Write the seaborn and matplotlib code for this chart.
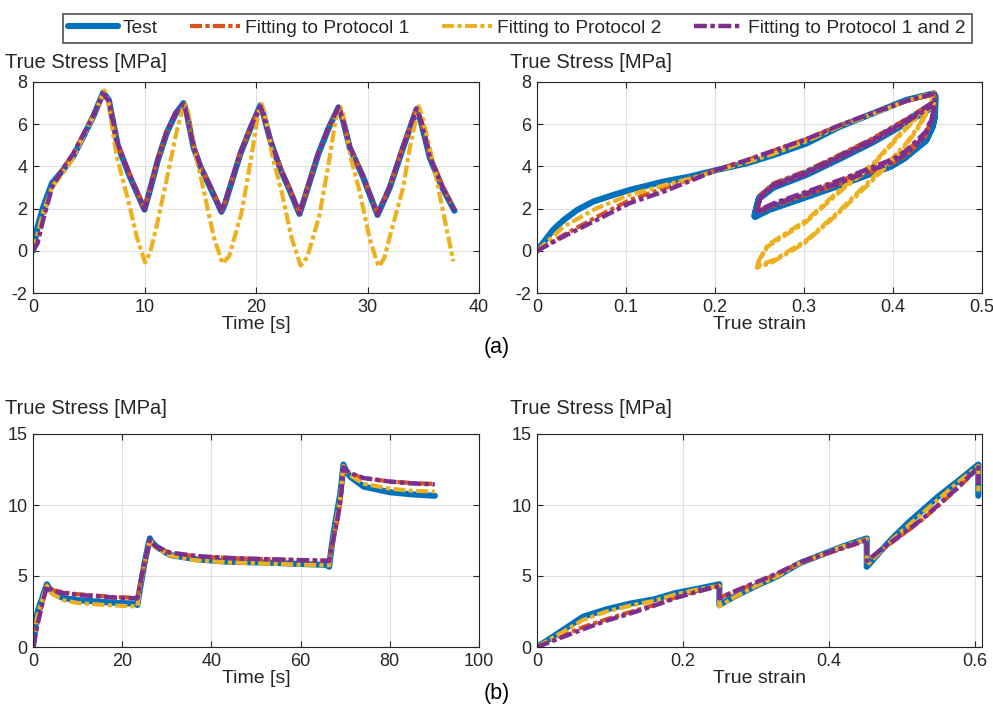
import numpy as np
import pandas as pd
import matplotlib
matplotlib.use("Agg")
import matplotlib.pyplot as plt
import seaborn as sns
from matplotlib.lines import Line2D
from matplotlib.ticker import FuncFormatter, MultipleLocator

# MATLAB default colour order
C_TEST = '#0072BD'
C_P1 = '#D95319'
C_P2 = '#EDB120'
C_P12 = '#7E2F8E'

# ---------------- (a) cyclic protocol: stress vs time ----------------
t_a = [0, 0.4, 0.9, 1.7, 2.7, 3.6, 4.5, 5.4, 6.3,
       6.8, 7.6, 8.7, 10.0,
       10.5, 11.2, 12.0, 12.8, 13.5,
       13.8, 14.4, 15.0, 15.9, 16.9,
       17.2, 18.6, 19.5, 20.4,
       20.7, 21.3, 22.2, 23.0, 23.9,
       24.3, 25.6, 26.5, 27.4,
       27.8, 28.4, 29.6, 30.9,
       32.0, 33.2, 34.4,
       34.8, 35.6, 36.7, 37.8]
s_a_test = [0, 1.1, 2.05, 3.2, 3.83, 4.46, 5.4, 6.36, 7.5,
            7.15, 5.0, 3.5, 1.95,
            2.9, 4.3, 5.6, 6.5, 7.0,
            6.5, 4.9, 4.0, 3.0, 1.85,
            2.2, 4.6, 5.8, 6.9,
            6.4, 5.2, 3.85, 2.9, 1.75,
            2.4, 4.6, 5.8, 6.8,
            6.2, 4.9, 3.5, 1.7,
            3.0, 4.9, 6.7,
            6.1, 4.4, 3.0, 1.9]
s_a_p1 = [0, 0.45, 1.55, 3.05, 3.9, 4.6, 5.5, 6.4, 7.45,
          7.1, 5.1, 3.6, 2.0,
          2.95, 4.35, 5.65, 6.55, 6.95,
          6.45, 4.95, 4.05, 3.05, 1.9,
          2.25, 4.65, 5.85, 6.85,
          6.35, 5.25, 3.9, 2.95, 1.8,
          2.45, 4.65, 5.85, 6.8,
          6.2, 4.95, 3.55, 1.75,
          3.05, 4.95, 6.75,
          6.15, 4.5, 3.1, 1.95]
s_a_p12 = [0, 0.35, 1.45, 3.0, 3.9, 4.6, 5.5, 6.4, 7.45,
           7.1, 5.05, 3.55, 1.95,
           2.95, 4.35, 5.65, 6.55, 6.95,
           6.45, 4.95, 4.05, 3.05, 1.85,
           2.25, 4.65, 5.85, 6.85,
           6.35, 5.25, 3.9, 2.95, 1.75,
           2.45, 4.65, 5.85, 6.8,
           6.2, 4.95, 3.55, 1.7,
           3.05, 4.95, 6.75,
           6.15, 4.45, 3.05, 1.9]
t_a_p2 = [0, 0.4, 0.9, 1.7, 2.7, 3.6, 4.5, 5.4, 6.4,
          6.7, 7.5, 8.7, 9.3, 10.05,
          10.5, 11.1, 12.0, 12.9, 13.6,
          13.9, 14.6, 15.3, 16.2, 17.0,
          17.6, 18.7, 19.6, 20.2, 20.5,
          20.8, 21.5, 22.3, 23.2, 24.0,
          24.6, 25.7, 26.6, 27.2, 27.5,
          27.8, 28.5, 29.3, 30.2, 31.0,
          31.5, 32.0, 33.2, 33.8, 34.6,
          34.9, 35.9, 36.8, 37.7]
s_a_p2 = [0, 0.8, 1.8, 3.0, 3.7, 4.4, 5.4, 6.35, 7.6,
          7.2, 4.5, 2.05, 0.67, -0.55,
          -0.1, 1.2, 3.4, 5.7, 7.05,
          6.6, 4.5, 2.9, 0.67, -0.6,
          -0.25, 1.8, 4.5, 6.5, 6.95,
          6.5, 4.4, 2.8, 0.6, -0.7,
          -0.3, 1.7, 4.4, 6.4, 6.9,
          6.5, 4.4, 2.8, 0.55, -0.75,
          -0.35, 0.67, 3.0, 4.9, 6.85,
          6.4, 4.15, 1.8, -0.5]

# ---------------- (a) cyclic protocol: stress vs strain ----------------
e_a_test = [0, 0.018, 0.030, 0.045, 0.063, 0.086, 0.104, 0.142, 0.172, 0.202, 0.236, 0.266, 0.303, 0.340, 0.378, 0.415, 0.446,
            0.448, 0.447, 0.440, 0.415, 0.400, 0.340, 0.303, 0.266, 0.246,
            0.245, 0.250, 0.266, 0.303, 0.340, 0.378, 0.415, 0.445,
            0.447, 0.446, 0.438, 0.413, 0.398, 0.338, 0.300, 0.264, 0.245,
            0.244, 0.249, 0.266, 0.303, 0.340, 0.378, 0.415, 0.444,
            0.446, 0.445, 0.437, 0.412, 0.397, 0.337, 0.300, 0.265]
se_a_test = [0, 0.99, 1.46, 1.93, 2.33, 2.65, 2.88, 3.28, 3.52, 3.83, 4.15, 4.54, 5.09, 5.88, 6.52, 7.15, 7.47,
             7.3, 6.3, 5.5, 4.55, 4.15, 3.2, 2.65, 2.1, 1.75,
             1.75, 2.55, 3.1, 3.7, 4.45, 5.25, 6.15, 7.0,
             6.9, 6.1, 5.3, 4.4, 4.0, 3.1, 2.55, 2.0, 1.6,
             1.65, 2.45, 3.0, 3.6, 4.35, 5.15, 6.05, 6.8,
             6.7, 5.9, 5.2, 4.35, 4.0, 3.05, 2.5, 2.0]
e_a_p1 = [0, 0.030, 0.067, 0.104, 0.142, 0.179, 0.202, 0.236, 0.266, 0.303, 0.340, 0.378, 0.415, 0.446,
          0.447, 0.445, 0.437, 0.415, 0.400, 0.340, 0.303, 0.266, 0.248,
          0.247, 0.252, 0.266, 0.303, 0.340, 0.378, 0.415, 0.444,
          0.446, 0.444, 0.436, 0.414, 0.399, 0.339, 0.302, 0.265, 0.247,
          0.246, 0.251, 0.266, 0.303, 0.340, 0.378, 0.415, 0.443]
se_a_p1 = [0, 0.75, 1.6, 2.4, 2.95, 3.5, 3.85, 4.3, 4.75, 5.3, 5.95, 6.55, 7.1, 7.4,
           7.25, 6.4, 5.6, 4.7, 4.3, 3.3, 2.75, 2.2, 1.9,
           1.9, 2.7, 3.2, 3.8, 4.55, 5.35, 6.25, 7.0,
           6.95, 6.2, 5.4, 4.5, 4.15, 3.15, 2.65, 2.1, 1.8,
           1.8, 2.6, 3.1, 3.7, 4.45, 5.25, 6.15, 6.85]
e_a_p12 = [0, 0.030, 0.067, 0.104, 0.142, 0.179, 0.202, 0.236, 0.266, 0.303, 0.340, 0.378, 0.415, 0.446,
           0.447, 0.445, 0.437, 0.415, 0.400, 0.340, 0.303, 0.266, 0.248,
           0.247, 0.252, 0.266, 0.303, 0.340, 0.378, 0.415, 0.444,
           0.446, 0.444, 0.436, 0.414, 0.399, 0.339, 0.302, 0.265, 0.247,
           0.246, 0.251, 0.266, 0.303, 0.340, 0.378, 0.415, 0.443]
se_a_p12 = [0, 0.68, 1.46, 2.26, 2.8, 3.43, 3.83, 4.3, 4.75, 5.3, 5.95, 6.55, 7.1, 7.45,
            7.3, 6.45, 5.65, 4.75, 4.35, 3.35, 2.8, 2.25, 1.9,
            1.9, 2.65, 3.15, 3.75, 4.5, 5.3, 6.2, 7.0,
            6.95, 6.25, 5.45, 4.55, 4.2, 3.2, 2.7, 2.15, 1.8,
            1.8, 2.55, 3.05, 3.65, 4.4, 5.2, 6.1, 6.85]
e_a_p2 = [0, 0.030, 0.067, 0.104, 0.142, 0.179, 0.202, 0.236, 0.266, 0.303, 0.340, 0.378, 0.415, 0.446,
          0.447, 0.440, 0.430, 0.415, 0.404, 0.378, 0.340, 0.303, 0.266, 0.248,
          0.250, 0.260, 0.303, 0.340, 0.378, 0.415, 0.430, 0.444,
          0.446, 0.439, 0.428, 0.413, 0.402, 0.376, 0.338, 0.300, 0.264, 0.247,
          0.249, 0.259, 0.302, 0.339, 0.377, 0.414, 0.429, 0.443]
se_a_p2 = [0, 1.15, 2.02, 2.65, 3.1, 3.5, 3.8, 4.2, 4.6, 5.2, 5.9, 6.5, 7.1, 7.5,
           7.45, 6.8, 6.0, 5.1, 4.6, 3.5, 1.9, 0.5, -0.44, -0.7,
           -0.4, 0.3, 1.46, 2.88, 4.15, 5.88, 6.5, 7.0,
           7.0, 6.6, 5.8, 4.9, 4.4, 3.3, 1.75, 0.35, -0.55, -0.8,
           -0.5, 0.2, 1.35, 2.75, 4.05, 5.75, 6.4, 6.9]

# ---------------- (b) relaxation protocol (time, strain, stress) ----------------
t_b = [0, 0.4, 0.8, 1.2, 1.6, 2.0, 2.4, 2.8, 3.1,
       3.5, 4.5, 6.8, 10, 14.3, 18, 23.0,
       23.4, 23.7, 24.1, 24.5, 25.0, 25.4, 25.8, 26.2,
       26.6, 27.7, 30.7, 36.7, 44, 53, 60, 65.8,
       66.4, 66.8, 67.3, 67.8, 68.3, 68.8, 69.2, 69.6,
       70.2, 71.1, 74.1, 80, 85, 90.1]
e_b = [0, 0.03, 0.063, 0.095, 0.127, 0.16, 0.19, 0.22, 0.25,
       0.25, 0.25, 0.25, 0.25, 0.25, 0.25, 0.25,
       0.25, 0.27, 0.30, 0.33, 0.36, 0.39, 0.42, 0.452,
       0.452, 0.452, 0.452, 0.452, 0.452, 0.452, 0.452, 0.452,
       0.452, 0.47, 0.49, 0.51, 0.53, 0.55, 0.575, 0.605,
       0.605, 0.605, 0.605, 0.605, 0.605, 0.605]
s_b_test = [0, 1.0, 2.13, 2.65, 3.05, 3.35, 3.8, 4.1, 4.42,
            4.2, 3.8, 3.45, 3.3, 3.2, 3.12, 3.05,
            2.96, 3.54, 4.3, 5.0, 5.9, 6.5, 7.1, 7.65,
            7.4, 7.06, 6.48, 6.17, 6.0, 5.94, 5.85, 5.78,
            5.65, 6.7, 7.8, 8.8, 9.7, 10.6, 11.6, 12.85,
            12.4, 12.0, 11.3, 10.9, 10.75, 10.65]
s_b_p1 = [0, 0.7, 1.4, 1.95, 2.45, 2.95, 3.5, 3.95, 4.35,
          4.2, 4.0, 3.85, 3.72, 3.62, 3.52, 3.47,
          3.45, 3.9, 4.5, 5.15, 5.9, 6.45, 6.95, 7.5,
          7.3, 7.0, 6.62, 6.38, 6.26, 6.17, 6.12, 6.08,
          6.05, 6.75, 7.5, 8.25, 9.05, 9.95, 11.1, 12.6,
          12.4, 12.2, 11.9, 11.65, 11.55, 11.48]
s_b_p2 = [0, 0.9, 1.9, 2.5, 2.9, 3.25, 3.7, 4.05, 4.3,
          4.05, 3.7, 3.3, 3.1, 3.0, 2.92, 2.86,
          2.85, 3.5, 4.3, 5.0, 5.9, 6.5, 7.1, 7.6,
          7.35, 6.95, 6.45, 6.1, 5.95, 5.87, 5.8, 5.75,
          5.75, 6.7, 7.7, 8.6, 9.5, 10.4, 11.5, 12.75,
          12.4, 12.1, 11.5, 11.15, 11.0, 10.95]
s_b_p12 = [0, 0.6, 1.25, 1.85, 2.35, 2.9, 3.45, 3.9, 4.3,
           4.15, 3.95, 3.8, 3.67, 3.57, 3.48, 3.43,
           3.42, 3.9, 4.55, 5.2, 5.95, 6.5, 7.0, 7.55,
           7.35, 7.05, 6.65, 6.4, 6.27, 6.18, 6.12, 6.07,
           6.05, 6.8, 7.55, 8.3, 9.1, 10.0, 11.15, 12.65,
           12.45, 12.25, 11.9, 11.65, 11.52, 11.45]

labels = ['Test', 'Fitting to Protocol 1', 'Fitting to Protocol 2', 'Fitting to Protocol 1 and 2']
colors = [C_TEST, C_P1, C_P2, C_P12]
DASHDOT = (0, (2.9, 0.8, 1.0, 0.8))
styles = ['-', DASHDOT, DASHDOT, DASHDOT]
widths = [4.4, 3.0, 3.0, 3.2]

sns.set_theme(style="ticks")
plt.rcParams['font.family'] = ['Liberation Sans', 'DejaVu Sans']
plt.rcParams['axes.unicode_minus'] = False

TXT = '#262626'


def draw(ax, x, y, i):
    df = pd.DataFrame({'x': x, 'y': y})
    sns.lineplot(data=df, x='x', y='y', ax=ax, color=colors[i], linewidth=widths[i],
                 linestyle=styles[i], sort=False, estimator=None, legend=False,
                 dash_capstyle='butt')


def style_axes(ax, xlabel):
    ax.grid(True, color='#e0e0e0', linewidth=0.8)
    ax.set_axisbelow(True)
    ax.tick_params(direction='in', length=4, width=0.8, top=True, right=True,
                   labelsize=13, colors=TXT, pad=4)
    for s in ax.spines.values():
        s.set_color(TXT)
        s.set_linewidth(0.8)
    fmt = FuncFormatter(lambda v, p: f'{v:g}')
    ax.xaxis.set_major_formatter(fmt)
    ax.yaxis.set_major_formatter(fmt)
    ax.set_xlabel(xlabel, fontsize=14, color=TXT, labelpad=0)
    ax.set_ylabel('')


W, H = 993, 711
fig = plt.figure(figsize=(W / 100, H / 100), dpi=100)


def axes_px(x0, y0, x1, y1):
    return fig.add_axes([x0 / W, 1 - y1 / H, (x1 - x0) / W, (y1 - y0) / H])


ax1 = axes_px(33, 82, 479, 293)
ax2 = axes_px(537, 82, 982, 293)
ax3 = axes_px(33, 434, 479, 647)
ax4 = axes_px(537, 434, 982, 647)

# (a) stress vs time
draw(ax1, t_a, s_a_test, 0)
draw(ax1, t_a, s_a_p1, 1)
draw(ax1, t_a_p2, s_a_p2, 2)
draw(ax1, t_a, s_a_p12, 3)
ax1.set_xlim(0, 40)
ax1.set_ylim(-2, 8)
ax1.xaxis.set_major_locator(MultipleLocator(10))
ax1.yaxis.set_major_locator(MultipleLocator(2))
style_axes(ax1, 'Time [s]')

# (a) stress vs strain
draw(ax2, e_a_test, se_a_test, 0)
draw(ax2, e_a_p1, se_a_p1, 1)
draw(ax2, e_a_p2, se_a_p2, 2)
draw(ax2, e_a_p12, se_a_p12, 3)
ax2.set_xlim(0, 0.5)
ax2.set_ylim(-2, 8)
ax2.xaxis.set_major_locator(MultipleLocator(0.1))
ax2.yaxis.set_major_locator(MultipleLocator(2))
style_axes(ax2, 'True strain')

# (b) stress vs time
for i, s in enumerate([s_b_test, s_b_p1, s_b_p2, s_b_p12]):
    draw(ax3, t_b, s, i)
ax3.set_xlim(0, 100)
ax3.set_ylim(0, 15)
ax3.xaxis.set_major_locator(MultipleLocator(20))
ax3.yaxis.set_major_locator(MultipleLocator(5))
style_axes(ax3, 'Time [s]')

# (b) stress vs strain
for i, s in enumerate([s_b_test, s_b_p1, s_b_p2, s_b_p12]):
    draw(ax4, e_b, s, i)
ax4.set_xlim(0, 0.61)
ax4.set_ylim(0, 15)
ax4.xaxis.set_major_locator(MultipleLocator(0.2))
ax4.yaxis.set_major_locator(MultipleLocator(5))
style_axes(ax4, 'True strain')

# y titles (MATLAB style, above the axes)
for xp, yp in [(5, 62), (510, 62), (5, 408), (510, 408)]:
    fig.text(xp / W, 1 - yp / H, 'True Stress [MPa]', ha='left', va='center',
             fontsize=14.5, color=TXT)

fig.text(497 / W, 1 - 348 / H, '(a)', ha='center', va='center', fontsize=15.5, color='black')
fig.text(497 / W, 1 - 693 / H, '(b)', ha='center', va='center', fontsize=15.5, color='black')

handles = [Line2D([0], [0], color=colors[i], lw=widths[i], linestyle=styles[i]) for i in range(4)]
leg = fig.legend(handles, labels, loc='upper center', bbox_to_anchor=(517 / W, 1 - 4 / H),
                 ncol=4, fontsize=13.8, frameon=True, fancybox=False, handlelength=2.6,
                 handletextpad=0.25, columnspacing=1.7, borderpad=0.3)
leg.get_frame().set_edgecolor('#262626')
leg.get_frame().set_linewidth(1.2)
for t in leg.get_texts():
    t.set_color(TXT)

fig.savefig('out.png', dpi=100)
